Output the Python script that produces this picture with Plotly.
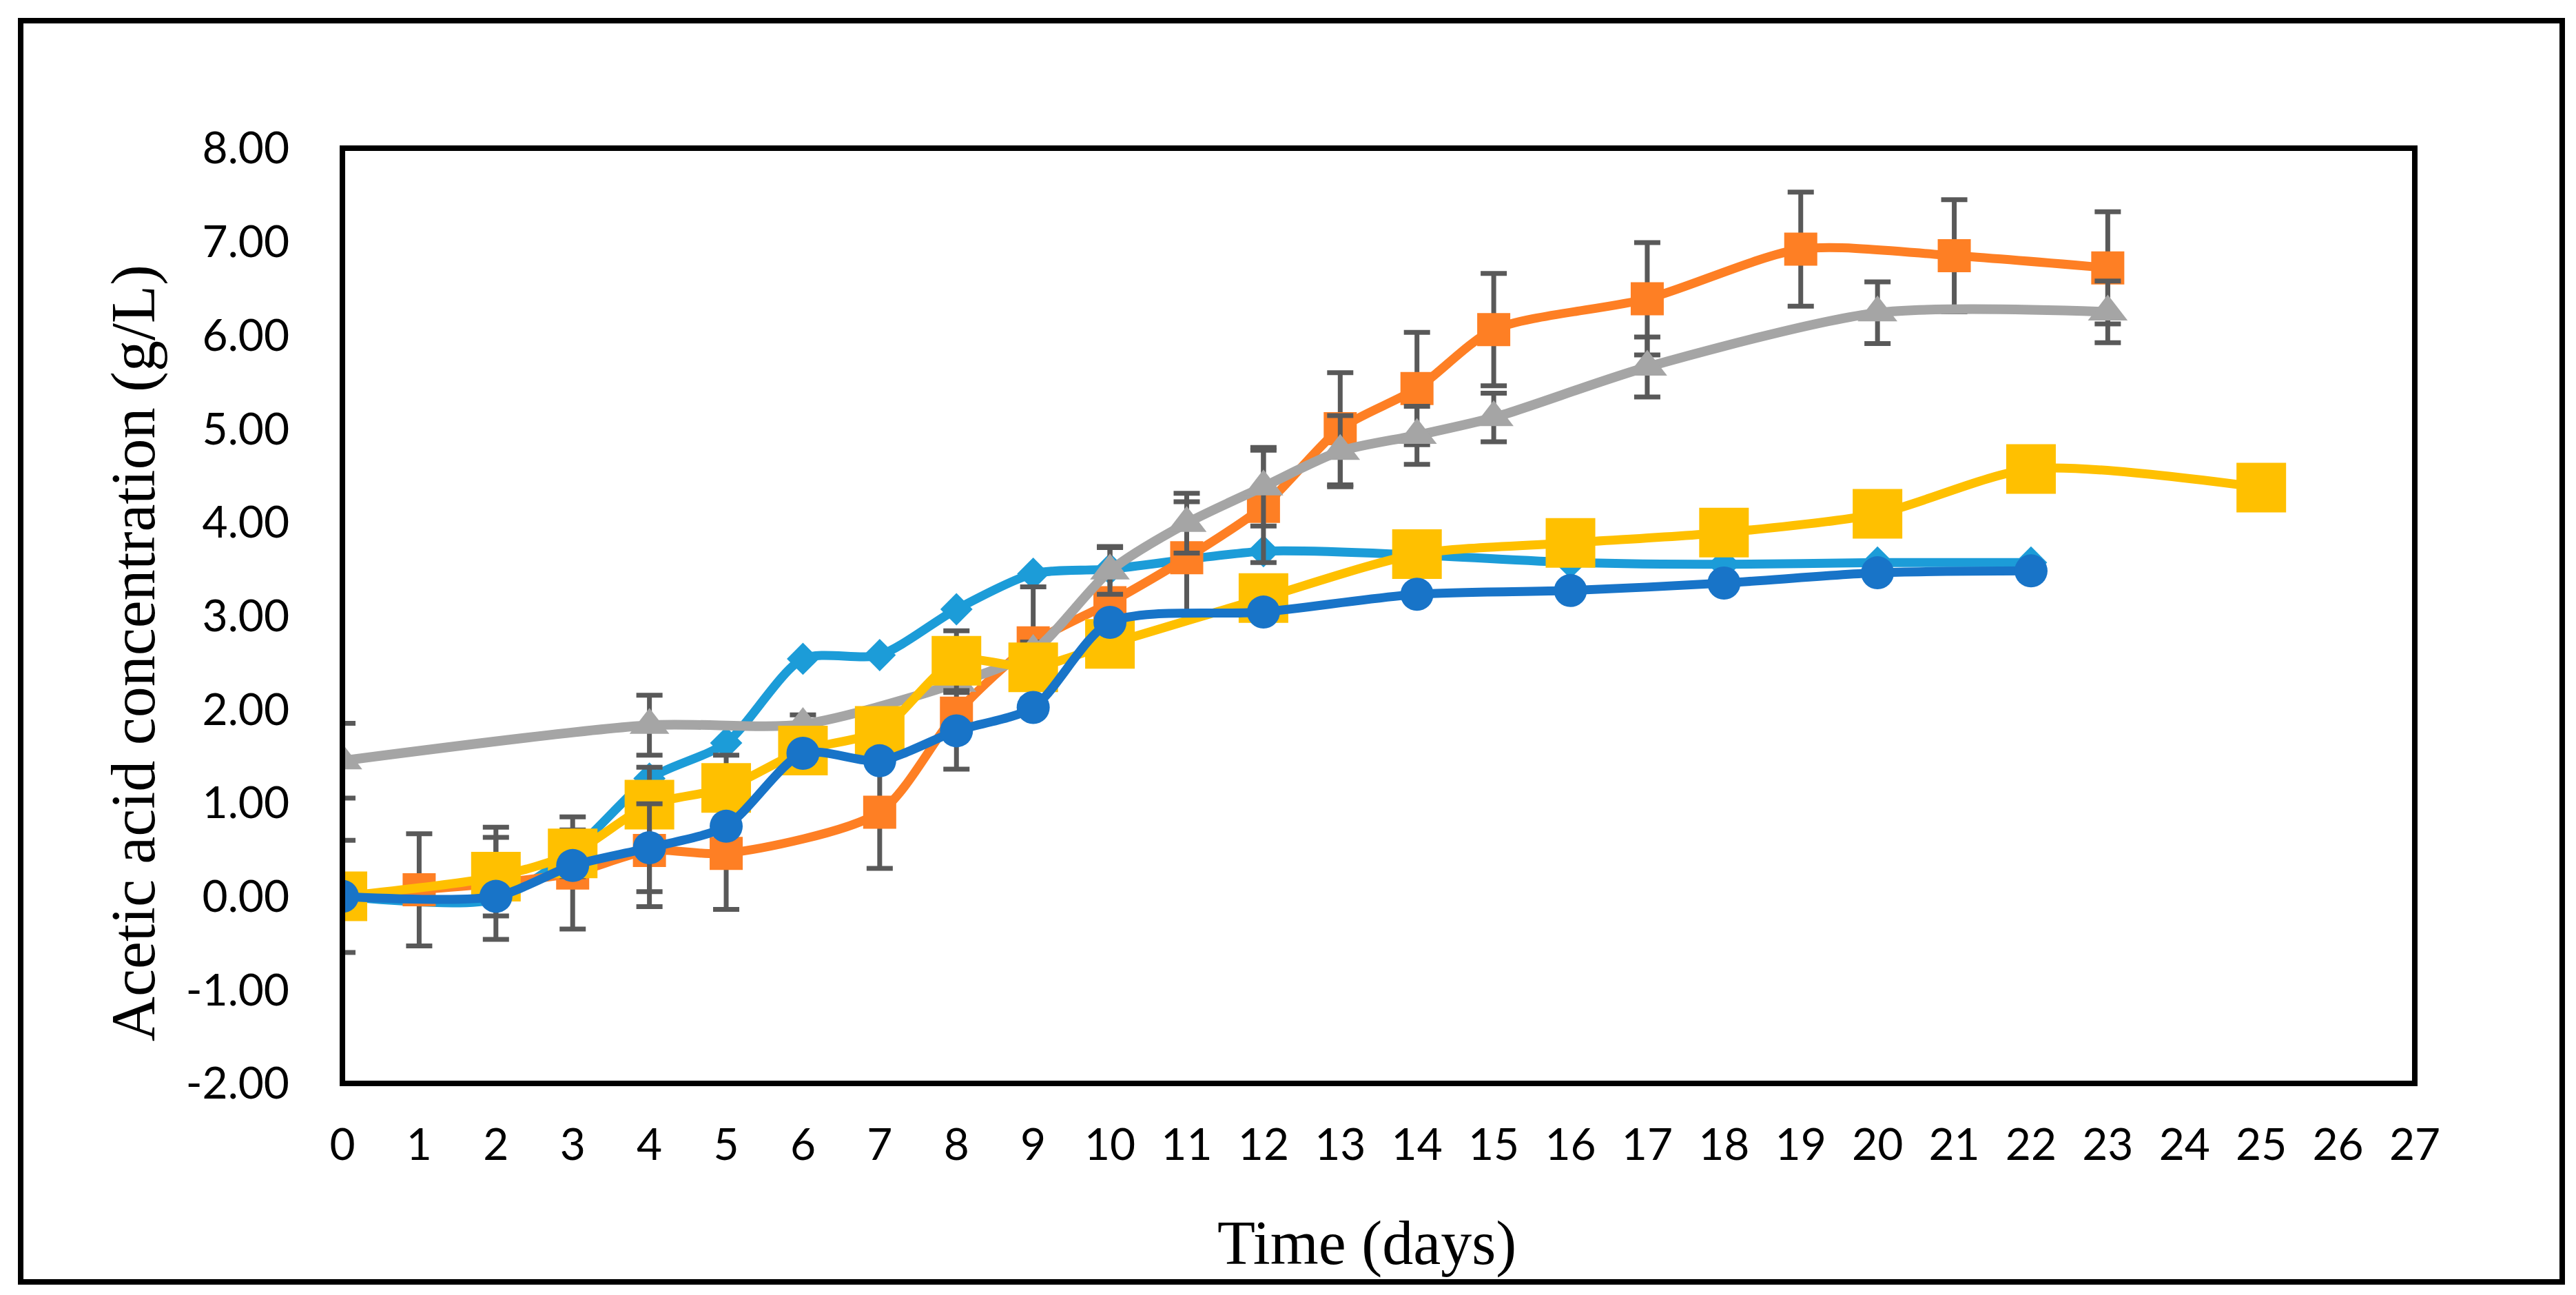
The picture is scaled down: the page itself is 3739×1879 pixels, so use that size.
import plotly.graph_objects as go

# ---------------- data ----------------
x_ticks = list(range(0, 28))
y_tickvals = [-2, -1, 0, 1, 2, 3, 4, 5, 6, 7, 8]
y_ticktext = ["-2.00", "-1.00", "0.00", "1.00", "2.00", "3.00", "4.00", "5.00", "6.00", "7.00", "8.00"]

days_lightblue = [0, 2, 3, 4, 5, 6, 7, 8, 9, 10, 12, 14, 16, 18, 20, 22]
lightblue = [0.00, -0.03, 0.48, 1.26, 1.64, 2.54, 2.58, 3.07, 3.45, 3.50, 3.69, 3.65, 3.57, 3.55, 3.57, 3.57]

days_orange = [0, 1, 2, 3, 4, 5, 7, 8, 9, 10, 11, 12, 13, 14, 15, 17, 19, 21, 23]
orange = [0.00, 0.07, 0.14, 0.25, 0.49, 0.46, 0.90, 1.96, 2.71, 3.14, 3.62, 4.17, 5.00, 5.43, 6.06, 6.39, 6.92, 6.85, 6.72]
orange_err = [0.60, 0.60, 0.60, 0.60, 0.60, 0.60, 0.60, 0.60, 0.60, 0.60, 0.60, 0.60, 0.60, 0.60, 0.60, 0.60, 0.61, 0.60, 0.60]

days_gray = [0, 4, 6, 8, 9, 10, 11, 12, 13, 14, 15, 17, 20, 23]
gray = [1.45, 1.83, 1.84, 2.28, 2.62, 3.48, 3.99, 4.38, 4.76, 4.93, 5.12, 5.66, 6.24, 6.25]
gray_err = [0.40, 0.32, 0.10, 0.10, 0.10, 0.25, 0.32, 0.42, 0.38, 0.31, 0.26, 0.32, 0.33, 0.33]

days_yellow = [0, 2, 3, 4, 5, 6, 7, 8, 9, 10, 12, 14, 16, 18, 20, 22, 25]
yellow = [0.00, 0.21, 0.46, 0.98, 1.16, 1.56, 1.77, 2.52, 2.45, 2.70, 3.19, 3.66, 3.78, 3.89, 4.09, 4.57, 4.37]
yellow_err = [0.00, 0.42, 0.25, 0.40, 0.35, 0.00, 0.00, 0.32, 0.00, 0.00, 0.00, 0.00, 0.00, 0.00, 0.00, 0.00, 0.00]

days_darkblue = [0, 2, 3, 4, 5, 6, 7, 8, 9, 10, 12, 14, 16, 18, 20, 22]
darkblue = [0.00, 0.00, 0.33, 0.52, 0.75, 1.53, 1.45, 1.77, 2.02, 2.93, 3.04, 3.23, 3.27, 3.35, 3.46, 3.48]
darkblue_err = [0.00, 0.00, 0.00, 0.47, 0.00, 0.00, 0.00, 0.00, 0.00, 0.00, 0.00, 0.00, 0.00, 0.00, 0.00, 0.00]

x_title = "Time (days)"
y_title = "Acetic acid concentration (g/L)"

# ---------------- styling ----------------
W, H = 3739, 1879
L, R, T, B = 489, 3497, 207, 1564   # plot-area pixel edges
ERR_COLOR = "#595959"
SMOOTH = 0.75


def err(arr):
    return dict(type="data", array=arr, visible=True, color=ERR_COLOR, thickness=7, width=19)


fig = go.Figure()

fig.add_trace(go.Scatter(
    x=days_lightblue, y=lightblue, mode="lines+markers",
    line=dict(color="#1C9CD8", width=13, shape="spline", smoothing=SMOOTH),
    marker=dict(symbol="diamond", size=36, color="#1C9CD8", line=dict(width=0)),
    showlegend=False))

fig.add_trace(go.Scatter(
    x=days_orange, y=orange, mode="lines+markers",
    line=dict(color="#FE7F24", width=13, shape="spline", smoothing=SMOOTH),
    marker=dict(symbol="square", size=48, color="#FE7F24", line=dict(width=0)),
    error_y=err(orange_err), showlegend=False))

fig.add_trace(go.Scatter(
    x=days_gray, y=gray, mode="lines+markers",
    line=dict(color="#A5A5A5", width=14, shape="spline", smoothing=SMOOTH),
    marker=dict(symbol="triangle-up", size=50, color="#A5A5A5", line=dict(width=0)),
    error_y=err(gray_err), showlegend=False))

fig.add_trace(go.Scatter(
    x=days_yellow, y=yellow, mode="lines+markers",
    line=dict(color="#FFC000", width=13, shape="spline", smoothing=SMOOTH),
    marker=dict(symbol="square", size=72, color="#FFC000", line=dict(width=0)),
    error_y=err(yellow_err), showlegend=False))

fig.add_trace(go.Scatter(
    x=days_darkblue, y=darkblue, mode="lines+markers",
    line=dict(color="#1874C8", width=13, shape="spline", smoothing=SMOOTH),
    marker=dict(symbol="circle", size=48, color="#1874C8", line=dict(width=0)),
    error_y=err(darkblue_err), showlegend=False))

PW, PH = R - L, B - T


def px_x(p):
    return (p - L) / PW


def px_y(p):
    return (B - p) / PH


tick_font = dict(family="Lato, 'Open Sans', sans-serif", size=64, color="#000000")
title_font = dict(family="'Liberation Serif', 'DejaVu Serif', serif", size=90, color="#000000")

fig.update_layout(
    width=W, height=H, autosize=False,
    margin=dict(l=L, r=W - R, t=T, b=H - B, pad=0),
    paper_bgcolor="#FFFFFF", plot_bgcolor="#FFFFFF",
    xaxis=dict(range=[0, 27], tickmode="array", tickvals=x_ticks,
               ticktext=[str(v) for v in x_ticks], showgrid=False, zeroline=False,
               showline=False, ticks="", tickfont=tick_font, ticklabelstandoff=46,
               fixedrange=True),
    yaxis=dict(range=[-2, 8], tickmode="array", tickvals=y_tickvals, ticktext=y_ticktext,
               showgrid=False, zeroline=False, showline=False, ticks="",
               tickfont=tick_font, ticklabelstandoff=76, fixedrange=True),
    shapes=[
        dict(type="rect", xref="paper", yref="paper", x0=0, x1=1, y0=0, y1=1,
             line=dict(color="#000000", width=8), fillcolor="rgba(0,0,0,0)", layer="above"),
        dict(type="rect", xref="paper", yref="paper",
             x0=px_x(22), x1=px_x(3711), y0=px_y(1852), y1=px_y(22),
             line=dict(color="#000000", width=8), fillcolor="rgba(0,0,0,0)", layer="above"),
    ],
    annotations=[
        dict(text=x_title, xref="paper", yref="paper", x=px_x(1976), y=px_y(1796),
             xanchor="center", yanchor="middle", showarrow=False, font=title_font),
        dict(text=y_title, xref="paper", yref="paper", x=px_x(186), y=px_y(940),
             xanchor="center", yanchor="middle", textangle=-90, showarrow=False,
             font=title_font),
    ],
)

fig.write_html("out.html")
